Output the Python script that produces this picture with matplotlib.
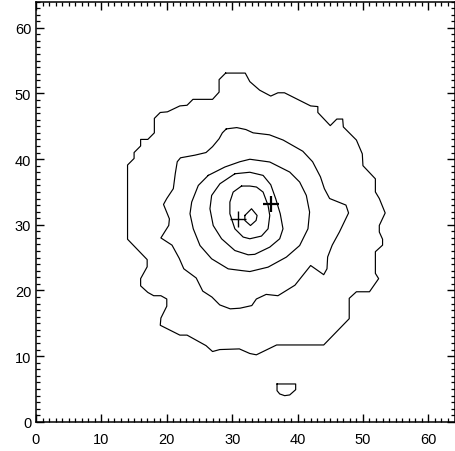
import matplotlib
matplotlib.use("Agg")
import matplotlib.pyplot as plt
from matplotlib.ticker import MultipleLocator

# contour levels, outermost first (data units)
level1_x = [29.0, 32.0, 32.7, 34.2, 35.9, 37.0, 38.0, 42.0, 43.1, 43.1, 45.0, 46.0,
            46.9, 47.0, 49.0, 49.9, 50.0, 51.9, 51.9, 52.5, 53.4, 52.5, 52.5, 53.0,
            53.0, 51.9, 51.9, 52.4, 51.0, 49.0, 47.9, 47.9, 44.0, 36.8, 33.7, 32.7,
            31.1, 28.1, 27.0, 26.0, 23.1, 22.0, 19.0, 19.1, 20.0, 20.0, 19.1, 18.0,
            17.1, 16.0, 16.0, 17.0, 17.0, 14.0, 14.0, 15.0, 15.0, 16.0, 16.0, 17.1,
            18.1, 18.1, 19.0, 20.1, 22.0, 23.1, 24.0, 27.0, 28.0, 28.0, 29.0]
level1_y = [53.1, 53.1, 51.8, 50.5, 49.6, 50.1, 50.1, 48.1, 48.0, 47.1, 45.1, 46.1,
            46.1, 44.9, 42.9, 40.8, 39.0, 37.0, 35.0, 34.0, 31.8, 29.9, 28.9, 27.8,
            26.9, 25.9, 22.6, 21.8, 19.8, 19.8, 18.8, 15.7, 11.7, 11.7, 10.2, 10.4,
            11.1, 11.0, 10.7, 11.6, 13.2, 13.2, 14.7, 15.8, 17.6, 18.7, 19.2, 19.2,
            19.7, 20.7, 21.8, 23.6, 24.7, 27.8, 39.1, 40.1, 41.0, 42.0, 43.0, 43.0,
            44.0, 46.2, 47.1, 47.2, 48.1, 48.2, 49.1, 49.1, 50.2, 52.1, 53.1]

level2_x = [29.1, 30.7, 32.1, 33.2, 35.7, 37.8, 40.8, 42.3, 43.5, 44.1, 44.9, 47.4,
            47.8, 46.4, 45.3, 44.6, 44.5, 44.0, 42.0, 40.8, 39.6, 37.0, 35.2, 33.7,
            33.0, 31.2, 29.7, 28.1, 26.9, 25.5, 24.5, 22.6, 21.9, 20.8, 19.1, 20.3,
            20.4, 19.5, 20.0, 21.0, 21.3, 21.6, 22.1, 24.3, 26.0, 27.0, 28.0, 28.5, 29.1]
level2_y = [44.6, 44.8, 44.5, 44.0, 43.7, 42.9, 41.2, 39.6, 37.3, 35.5, 34.0, 33.0,
            31.8, 28.9, 26.9, 25.1, 23.3, 22.4, 23.8, 22.3, 20.8, 19.2, 19.4, 18.7,
            17.7, 17.3, 17.2, 17.8, 19.0, 19.9, 21.9, 23.3, 24.9, 26.9, 28.0, 29.9,
            30.9, 33.1, 34.0, 35.5, 37.8, 39.6, 40.2, 40.6, 41.0, 41.9, 43.1, 44.0, 44.6]

level3_x = [26.34, 28.89, 31.17, 32.70, 35.75, 38.80, 40.32, 41.34, 41.84, 41.59, 40.32,
            38.29, 35.49, 32.70, 31.43, 29.39, 26.86, 25.08, 24.05, 23.55, 23.81, 24.82, 26.34]
level3_y = [37.52, 38.80, 39.60, 39.98, 39.56, 38.03, 36.51, 34.47, 31.94, 29.39, 26.84,
            25.08, 23.55, 22.88, 23.03, 23.29, 24.82, 26.84, 29.39, 31.68, 33.46, 35.99, 37.52]

level4_x = [30.41, 32.70, 34.73, 35.90, 36.66, 37.35, 37.77, 37.27, 35.75, 33.46, 32.44,
            30.41, 28.38, 27.10, 26.60, 26.86, 28.13, 30.41]
level4_y = [37.77, 38.00, 37.52, 36.10, 33.96, 31.68, 29.39, 27.87, 26.60, 25.50, 25.43,
            26.08, 27.87, 29.89, 32.44, 34.47, 36.25, 37.77]

level5_x = [31.43, 32.70, 33.72, 34.73, 35.49, 35.75, 35.49, 34.48, 32.70, 31.68, 30.41,
            29.65, 29.65, 30.15, 31.43]
level5_y = [35.90, 35.90, 35.75, 34.98, 32.94, 31.42, 29.39, 28.28, 27.87, 28.13, 29.39,
            31.68, 33.46, 34.98, 35.90]

level6_x = [31.94, 32.96, 33.81, 33.66, 32.80, 31.94, 31.94]
level6_y = [31.42, 32.44, 31.42, 30.66, 29.89, 30.66, 31.42]

# small closed contour near the bottom
blob_x = [36.86, 39.71, 39.71, 38.80, 38.03, 37.27, 36.86, 36.86]
blob_y = [5.76, 5.76, 4.89, 4.09, 3.98, 4.24, 4.74, 5.76]

# marked positions
cross_x = [30.9, 36.0]
cross_y = [30.9, 33.2]

fig = plt.figure(figsize=(4.55, 4.52), dpi=100)
ax = fig.add_axes([36 / 455, 29.2 / 452, 418.5 / 455, 420.3 / 452])

for xs, ys in [(level1_x, level1_y), (level2_x, level2_y), (level3_x, level3_y),
               (level4_x, level4_y), (level5_x, level5_y), (level6_x, level6_y),
               (blob_x, blob_y)]:
    ax.plot(xs, ys, color="black", linewidth=0.85)

ax.plot(cross_x[0], cross_y[0], marker="+", color="black", markersize=11, markeredgewidth=1.0)
ax.plot(cross_x[1], cross_y[1], marker="+", color="black", markersize=11, markeredgewidth=1.6)

ax.set_xlim(0, 64)
ax.set_ylim(0, 64)
ax.xaxis.set_major_locator(MultipleLocator(10))
ax.yaxis.set_major_locator(MultipleLocator(10))
ax.xaxis.set_minor_locator(MultipleLocator(1))
ax.yaxis.set_minor_locator(MultipleLocator(1))
ax.tick_params(which="both", direction="in", top=True, right=True, color="black")
ax.tick_params(which="major", length=6, width=1.0)
ax.tick_params(which="minor", length=3, width=0.9)
ax.tick_params(axis="x", pad=7)
ax.tick_params(axis="y", pad=3.5)
for label in ax.get_xticklabels() + ax.get_yticklabels():
    label.set_fontfamily("Liberation Sans")
    label.set_fontsize(10.5)
for spine in ax.spines.values():
    spine.set_linewidth(1.1)

plt.savefig("out.png", dpi=100)
